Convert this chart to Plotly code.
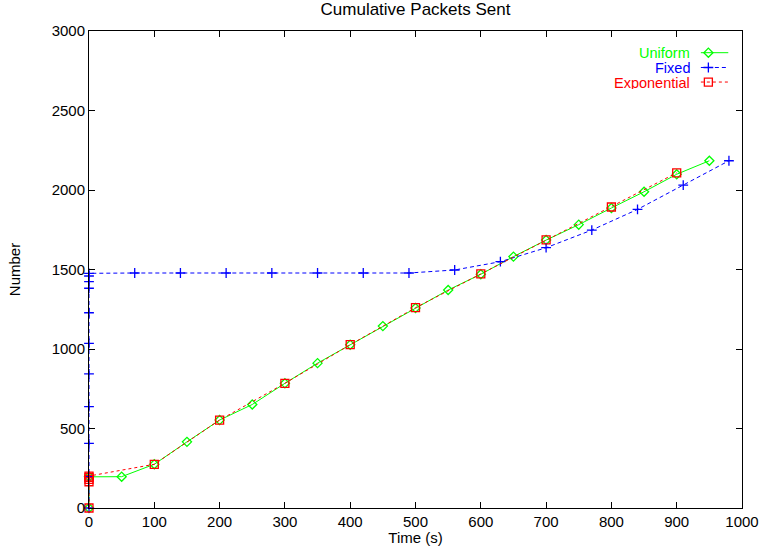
import plotly.graph_objects as go

# ---- data ----
uniform_x = [0, 0, 50, 100, 150, 200, 250, 300, 350, 400, 450, 500, 550, 600, 650, 700, 750, 800, 850, 900, 950]
uniform_y = [0, 196, 197, 275, 416, 553, 651, 784, 911, 1027, 1144, 1258, 1371, 1470, 1581, 1685, 1782, 1887, 1989, 2099, 2184]

fixed_x = [0, 0, 0, 0, 0, 0, 0, 0, 0, 0, 0,
           70, 140, 210, 280, 350, 420, 490, 560, 630, 700, 770, 840, 910, 980]
fixed_y = [0, 198, 407, 637, 843, 1036, 1228, 1382, 1424, 1459, 1476,
           1478, 1478, 1478, 1478, 1478, 1478, 1478, 1497, 1549, 1637, 1748, 1878, 2031, 2184]

expo_x = [0, 0, 0, 0, 0, 100, 200, 300, 400, 500, 600, 700, 800, 900]
expo_y = [0, 165, 180, 193, 201, 275, 553, 784, 1027, 1260, 1472, 1686, 1893, 2108]

x_ticks = [0, 100, 200, 300, 400, 500, 600, 700, 800, 900, 1000]
y_ticks = [0, 500, 1000, 1500, 2000, 2500, 3000]

series_names = ["Uniform", "Fixed", "Exponential"]
colors = ["#00ff00", "#0000ff", "#ff0000"]
dashes = ["solid", "4px,3px", "dot"]
symbols = ["diamond-open", "cross-thin-open", "square-open"]
msizes = [7, 7, 8]

FONT = "Liberation Sans, Arial, Helvetica, sans-serif"

fig = go.Figure()
data = [(uniform_x, uniform_y), (fixed_x, fixed_y), (expo_x, expo_y)]
for (xs, ys), name, c, d, s, ms in zip(data, series_names, colors, dashes, symbols, msizes):
    fig.add_trace(go.Scatter(
        x=xs, y=ys, mode="lines+markers", name=name,
        line=dict(color=c, width=1, dash=d),
        marker=dict(symbol=s, size=ms, color=c, line=dict(color=c, width=1.3)),
        cliponaxis=False, showlegend=False,
    ))

# ---- manual legend (text left of sample, like the original) ----
leg_y = [0.9545, 0.9235, 0.893]
for name, c, d, s, ms, ly in zip(series_names, colors, dashes, symbols, msizes, leg_y):
    fig.add_annotation(xref="paper", yref="paper", x=0.922, y=ly, text=name,
                       showarrow=False, xanchor="right", yanchor="middle",
                       height=13, borderpad=0,
                       font=dict(color=c, size=14.5, family=FONT))
    fig.add_trace(go.Scatter(x=[0.937, 0.979], y=[ly, ly], xaxis="x2", yaxis="y2",
                             mode="lines", line=dict(color=c, width=1, dash=d),
                             showlegend=False, hoverinfo="skip"))
    fig.add_trace(go.Scatter(x=[0.9485], y=[ly], xaxis="x2", yaxis="y2",
                             mode="markers",
                             marker=dict(symbol=s, size=ms, color=c, line=dict(color=c, width=1.3)),
                             showlegend=False, hoverinfo="skip"))

axis_common = dict(
    showgrid=False, zeroline=False, showline=True, linecolor="black", linewidth=1,
    mirror="ticks", ticks="inside", ticklen=6, tickcolor="black", tickwidth=1,
    tickfont=dict(size=15, family=FONT, color="black"), automargin=False,
)

fig.update_layout(
    width=759, height=546,
    margin=dict(l=89, r=17, t=31, b=38),
    paper_bgcolor="white", plot_bgcolor="white",
    title=dict(text="Cumulative Packets Sent", xref="paper", x=0.5, xanchor="center",
               y=0.994, yanchor="top",
               font=dict(size=17, family=FONT, color="black")),
    xaxis=dict(range=[0, 1000], tickvals=x_ticks, ticktext=[str(v) for v in x_ticks],
               title=dict(text="Time (s)", standoff=0, font=dict(size=15, family=FONT, color="black")),
               **axis_common),
    yaxis=dict(range=[0, 3000], tickvals=y_ticks, ticktext=[str(v) for v in y_ticks],
               title=dict(text="Number", standoff=27, font=dict(size=15, family=FONT, color="black")),
               **axis_common),
    xaxis2=dict(range=[0, 1], overlaying="x", visible=False, domain=[0, 1], automargin=False),
    yaxis2=dict(range=[0, 1], overlaying="y", visible=False, automargin=False),
    showlegend=False,
)

fig.write_html("out.html", config={"displayModeBar": False},
               post_script="document.body.style.margin='0';")
